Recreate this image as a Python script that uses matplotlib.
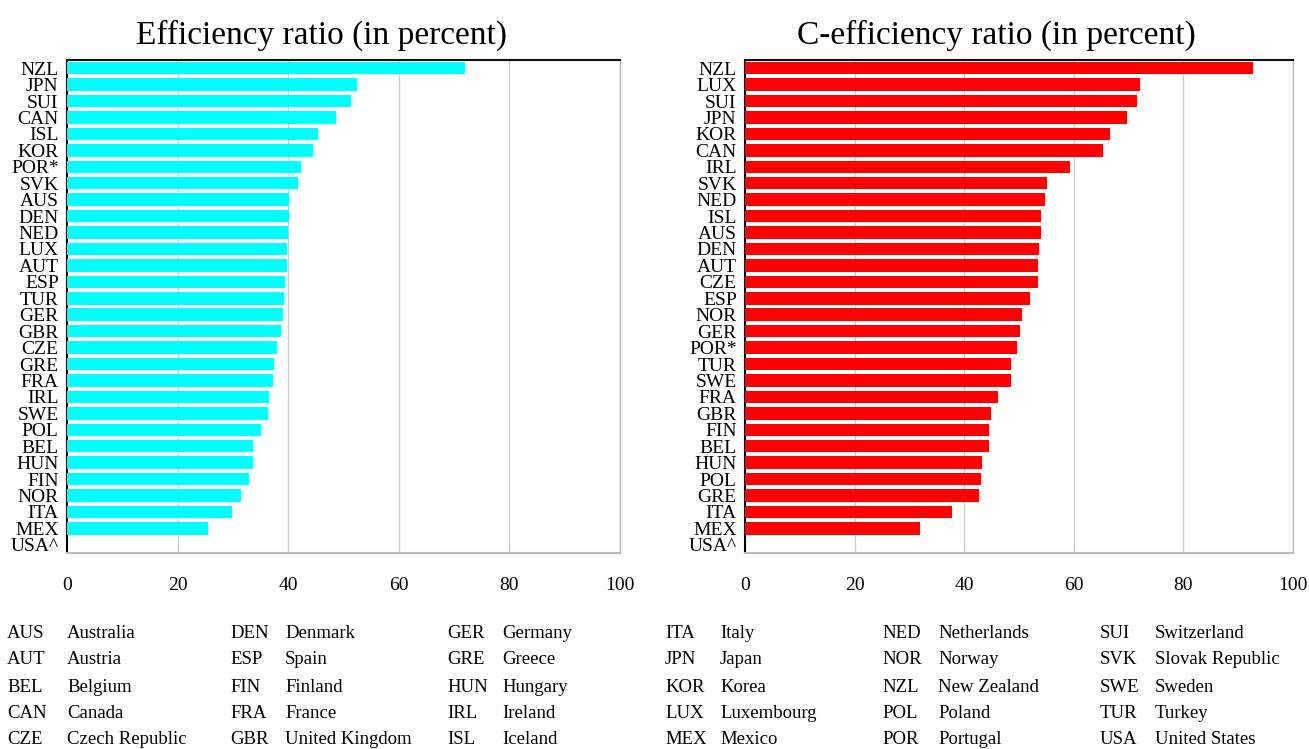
import matplotlib
matplotlib.use("Agg")
import matplotlib.pyplot as plt

# Left chart: Efficiency ratio
eff_labels = ["NZL", "JPN", "SUI", "CAN", "ISL", "KOR", "POR*", "SVK", "AUS", "DEN",
              "NED", "LUX", "AUT", "ESP", "TUR", "GER", "GBR", "CZE", "GRE", "FRA",
              "IRL", "SWE", "POL", "BEL", "HUN", "FIN", "NOR", "ITA", "MEX", "USA^"]
eff_values = [72.0, 52.5, 51.4, 48.6, 45.4, 44.5, 42.3, 41.8, 40.1, 40.1,
              40.0, 39.8, 39.8, 39.4, 39.2, 39.0, 38.7, 38.0, 37.4, 37.3,
              36.5, 36.4, 35.0, 33.6, 33.6, 33.0, 31.4, 29.8, 25.5, 0.0]

# Right chart: C-efficiency ratio
ceff_labels = ["NZL", "LUX", "SUI", "JPN", "KOR", "CAN", "IRL", "SVK", "NED", "ISL",
               "AUS", "DEN", "AUT", "CZE", "ESP", "NOR", "GER", "POR*", "TUR", "SWE",
               "FRA", "GBR", "FIN", "BEL", "HUN", "POL", "GRE", "ITA", "MEX", "USA^"]
ceff_values = [92.7, 72.1, 71.6, 69.7, 66.6, 65.3, 59.3, 55.1, 54.8, 54.0,
               54.0, 53.7, 53.4, 53.4, 52.0, 50.6, 50.1, 49.7, 48.6, 48.5,
               46.2, 44.9, 44.6, 44.6, 43.3, 43.1, 42.7, 37.8, 31.9, 0.0]

x_ticks = [0, 20, 40, 60, 80, 100]

legend_codes = ["AUS", "AUT", "BEL", "CAN", "CZE", "DEN", "ESP", "FIN", "FRA", "GBR",
                "GER", "GRE", "HUN", "IRL", "ISL", "ITA", "JPN", "KOR", "LUX", "MEX",
                "NED", "NOR", "NZL", "POL", "POR", "SUI", "SVK", "SWE", "TUR", "USA"]
legend_names = ["Australia", "Austria", "Belgium", "Canada", "Czech Republic",
                "Denmark", "Spain", "Finland", "France", "United Kingdom",
                "Germany", "Greece", "Hungary", "Ireland", "Iceland",
                "Italy", "Japan", "Korea", "Luxembourg", "Mexico",
                "Netherlands", "Norway", "New Zealand", "Poland", "Portugal",
                "Switzerland", "Slovak Republic", "Sweden", "Turkey", "United States"]

plt.rcParams['font.family'] = ['Liberation Serif', 'DejaVu Serif']

W, H = 1309, 749
fig = plt.figure(figsize=(W / 100, H / 100), dpi=100)

def make_axes(rect, labels, values, color, title, title_x):
    l, t, r, b = rect
    ax = fig.add_axes([l / W, 1 - b / H, (r - l) / W, (b - t) / H])
    y = list(range(len(labels)))
    ax.barh(y, values, height=0.76, color=color, zorder=3)
    ax.set_ylim(len(labels) - 0.5, -0.5)
    ax.set_yticks(y)
    ax.set_yticklabels(labels, fontsize=14)
    ax.set_xlim(0, 100)
    ax.set_xticks(x_ticks)
    ax.set_xticklabels([str(v) for v in x_ticks], fontsize=14)
    ax.tick_params(axis='both', length=0)
    ax.tick_params(axis='x', pad=17)
    ax.tick_params(axis='y', pad=6)
    ax.grid(axis='x', color='#cccccc', linewidth=1.0, zorder=0)
    ax.spines['left'].set_color('black')
    ax.spines['left'].set_linewidth(1.5)
    ax.spines['top'].set_color('#111111')
    ax.spines['top'].set_linewidth(1.5)
    ax.spines['right'].set_color('#bbbbbb')
    ax.spines['right'].set_linewidth(1.0)
    ax.spines['bottom'].set_color('#bbbbbb')
    ax.spines['bottom'].set_linewidth(1.5)
    ax.set_title(title, fontsize=24, pad=12, x=title_x)
    return ax

make_axes((67, 60, 620, 553), eff_labels, eff_values, '#00FFFF',
          "Efficiency ratio (in percent)", 0.461)
make_axes((745, 60, 1293, 553), ceff_labels, ceff_values, '#FF0000',
          "C-efficiency ratio (in percent)", 0.458)

# Country legend
col_code_x = [7, 230, 447, 665, 882, 1100]
col_name_x = [67, 285, 502, 720, 938, 1155]
row_y = [634, 660, 687, 713, 740]
for i, (code, name) in enumerate(zip(legend_codes, legend_names)):
    c = i // 5
    r = i % 5
    fig.text(col_code_x[c] / W, 1 - row_y[r] / H, code, fontsize=13.5,
             va='center', ha='left')
    fig.text(col_name_x[c] / W, 1 - row_y[r] / H, name, fontsize=13.5,
             va='center', ha='left')

fig.savefig("out.png", dpi=100, facecolor='white')
